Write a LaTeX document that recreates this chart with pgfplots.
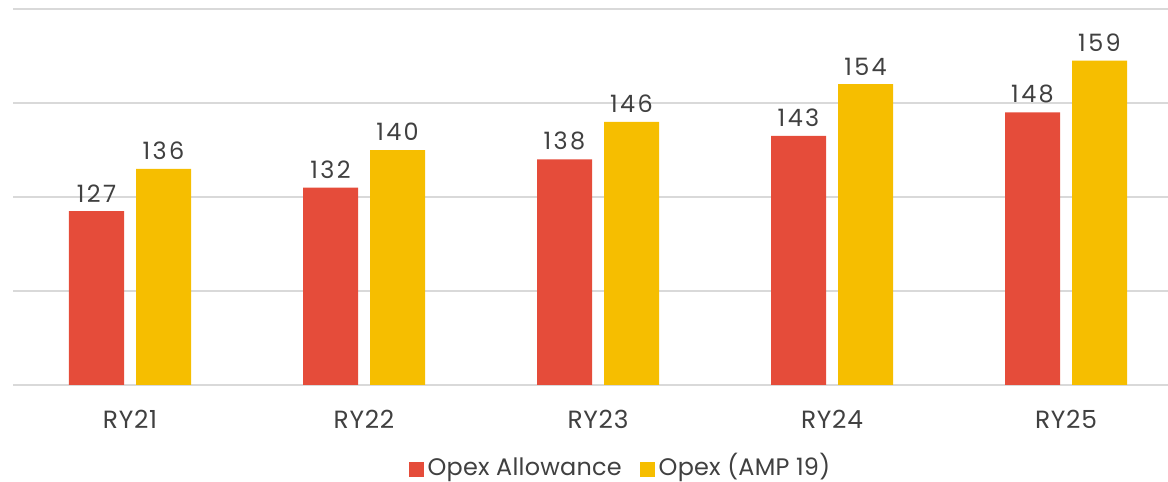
\documentclass[border=0pt]{standalone}
\usepackage{pgfplots}
\pgfplotsset{compat=1.18}
\usepackage{fontspec}
\setmainfont{Poppins}
\definecolor{cRed}{RGB}{229,76,58}
\definecolor{cYel}{RGB}{246,190,0}
\definecolor{cTxt}{RGB}{64,64,64}
\definecolor{cGrid}{RGB}{217,217,217}
\begin{document}
\begin{tikzpicture}
\begin{axis}[
  at={(6.5bp,48.5bp)}, anchor=south west,
  scale only axis, width=585bp, height=188bp,
  xmin=-0.5, xmax=4.5, ymin=90, ymax=170,
  ytick={90,110,130,150,170}, yticklabels={},
  ymajorgrids, grid style={cGrid,line width=1bp},
  axis line style={draw=none}, major tick length=0pt,
  xtick=data, xticklabels={RY21,RY22,RY23,RY24,RY25},
  xticklabel style={font=\fontsize{12.5}{14}\selectfont\addfontfeature{LetterSpace=3}, text=cTxt, yshift=-9bp},
  /pgf/number format/assume math mode=true,
  ybar, bar width=27.5bp,
  nodes near coords,
  every node near coord/.append style={font=\fontsize{12}{14}\selectfont\addfontfeature{LetterSpace=10}, text=cTxt, yshift=1bp},
  legend style={at={(0.52,-0.225)}, anchor=center, draw=none, legend columns=2,
    font=\fontsize{12}{14}\selectfont\addfontfeature{LetterSpace=1}, text=cTxt,
    nodes={text height=9bp, text depth=3bp},
    /tikz/every even column/.append style={column sep=7bp}},
  legend image code/.code={\fill[#1] (0bp,-3.75bp) rectangle (7.5bp,3.75bp);},
]
\addplot[fill=cRed, draw=none, bar shift=-16.75bp] coordinates {(0,127) (1,132) (2,138) (3,143) (4,148)};
\addplot[fill=cYel, draw=none, bar shift=16.75bp] coordinates {(0,136) (1,140) (2,146) (3,154) (4,159)};
\legend{Opex Allowance, Opex (AMP 19)}
\end{axis}
\pgfresetboundingbox
\path (0,0) rectangle (584bp,241bp);
\end{tikzpicture}
\end{document}
